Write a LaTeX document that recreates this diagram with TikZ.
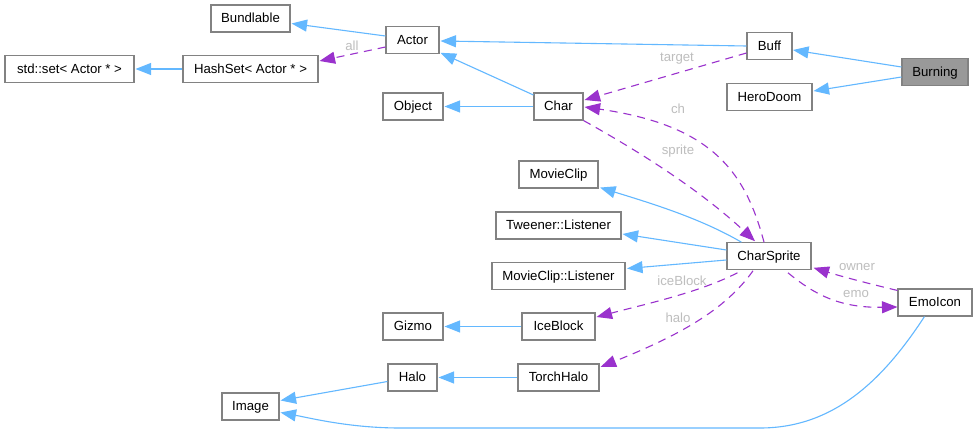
\documentclass[tikz,border=0pt]{standalone}
\usepackage{fontspec}
\setmainfont{Liberation Sans}
\usetikzlibrary{arrows.meta,calc}
\definecolor{inh}{HTML}{63B8FF}
\definecolor{usg}{HTML}{9A32CD}
\definecolor{bd}{HTML}{828282}
\definecolor{lb}{HTML}{BEBEBE}
\tikzset{
  cls/.style={draw=bd,line width=1.1pt,fill=white,inner sep=0pt,font=\fontsize{13.2}{15}\selectfont,text height=9.6pt,text depth=1pt,align=center},
  cur/.style={cls,fill=black!40},
  inhline/.style={draw=inh,line width=1.1pt,-{Triangle[length=15.5pt,width=12pt,fill=inh]}},
  usgline/.style={draw=usg,line width=1.1pt,dash pattern=on 8pt off 6pt,-{Triangle[length=15.5pt,width=12pt,fill=usg]}},
  lbl/.style={text=lb,inner sep=0pt,font=\fontsize{13.2}{15}\selectfont}
}
\begin{document}
\begin{tikzpicture}[x=1pt,y=-1pt]
\useasboundingbox[fill=white] (0,0) rectangle (977,433);
% nodes
\node[cls,minimum width=79pt,minimum height=27pt] (bundlable) at (250.5,18.5) {Bundlable};
\node[cls,minimum width=53pt,minimum height=26.5pt] (actor) at (412.5,40) {Actor};
\node[cls,minimum width=129pt,minimum height=26.5pt] (stdset) at (69.5,69) {std::set< Actor * >};
\node[cls,minimum width=135pt,minimum height=26.5pt] (hashset) at (250.5,69) {HashSet< Actor * >};
\node[cls,minimum width=60pt,minimum height=27pt] (object) at (413,106.5) {Object};
\node[cls,minimum width=49pt,minimum height=27pt] (char) at (558.5,106.5) {Char};
\node[cls,minimum width=45pt,minimum height=27pt] (buff) at (769.5,46) {Buff};
\node[cur,minimum width=66pt,minimum height=26.5pt] (burning) at (935,72) {Burning};
\node[cls,minimum width=85pt,minimum height=26.5pt] (herodoom) at (769.5,97) {HeroDoom};
\node[cls,minimum width=79pt,minimum height=27pt] (movieclip) at (558.5,174.5) {MovieClip};
\node[cls,minimum width=125pt,minimum height=27pt] (tweener) at (558.5,225.5) {Tweener::Listener};
\node[cls,minimum width=133pt,minimum height=26.5pt] (mclistener) at (558.5,276) {MovieClip::Listener};
\node[cls,minimum width=73pt,minimum height=27pt] (iceblock) at (558.5,326.5) {IceBlock};
\node[cls,minimum width=60pt,minimum height=27pt] (gizmo) at (413,326.5) {Gizmo};
\node[cls,minimum width=49pt,minimum height=27pt] (halo) at (412.5,377.5) {Halo};
\node[cls,minimum width=81pt,minimum height=27pt] (torchhalo) at (558.5,377.5) {TorchHalo};
\node[cls,minimum width=57pt,minimum height=27pt] (image) at (250.5,406.5) {Image};
\node[cls,minimum width=84pt,minimum height=26.5pt] (charsprite) at (769,256) {CharSprite};
\node[cls,minimum width=74pt,minimum height=27pt] (emoicon) at (935,302.5) {EmoIcon};
% inheritance
\draw[inhline] ($(burning.west)+(0,-5)$) -- ($(buff.east)+(0.5,4)$);
\draw[inhline] ($(burning.west)+(0,5)$) -- ($(herodoom.east)+(1,-6)$);
\draw[inhline] ($(buff.west)+(0,0)$) -- ($(actor.east)+(1,1)$);
\draw[inhline] ($(actor.west)+(0,-4)$) -- ($(bundlable.east)+(1,5)$);
\draw[inhline] (hashset.west) -- ($(stdset.east)+(1,0)$);
\draw[inhline] ($(char.west)+(0,-11.5)$) -- ($(actor.south east)+(1,-1)$);
\draw[inhline] (char.west) -- ($(object.east)+(1,0)$);
\draw[inhline] ($(charsprite.north west)+(15,0)$) .. controls (700,218) and (650,203) .. ($(movieclip.south east)+(1.5,-1)$);
\draw[inhline] ($(charsprite.west)+(0,-6)$) -- ($(tweener.east)+(1,8.5)$);
\draw[inhline] ($(charsprite.west)+(0,4)$) -- ($(mclistener.east)+(1.5,-7.5)$);
\draw[inhline] (iceblock.west) -- ($(gizmo.east)+(1,0)$);
\draw[inhline] (torchhalo.west) -- ($(halo.east)+(1,0)$);
\draw[inhline] ($(halo.west)+(0,4)$) -- ($(image.east)+(1,-6)$);
\draw[inhline] ($(emoicon.south west)+(27,0)$) .. controls (880,385) and (830,428) .. (760,428) -- (400,428) .. controls (350,428) and (310,418) .. ($(image.east)+(1,6)$);
% usage
\draw[usgline] ($(actor.west)+(0,7)$) -- ($(hashset.east)+(1,-8)$);
\draw[usgline] ($(buff.west)+(0,7)$) -- ($(char.east)+(1,-6.5)$);
\draw[usgline] ($(charsprite.north)+(-5,0)$) .. controls (745,170) and (710,125) .. ($(char.east)+(1,0.5)$);
\draw[usgline] (char.south east) .. controls (640,152) and (700,190) .. ($(charsprite.north)+(-14,-1)$);
\draw[usgline] ($(charsprite.south west)+(11,3)$) .. controls (700,292) and (650,303) .. ($(iceblock.east)+(1,-9.5)$);
\draw[usgline] ($(charsprite.south)+(-16,1)$) .. controls (725,310) and (680,335) .. ($(torchhalo.east)+(1,-10.5)$);
\draw[usgline] ($(charsprite.south)+(19,3)$) .. controls (815,295) and (840,308) .. ($(emoicon.west)+(0,4.5)$);
\draw[usgline] ($(emoicon.north west)+(0,2)$) .. controls (870,284) and (840,276) .. ($(charsprite.south east)+(2,-2)$);
% labels
\node[lbl] (lall) at (352,46) {all};
\node[lbl] (ltarget) at (677,58.5) {target};
\node[lbl] (lch) at (678,109) {ch};
\node[lbl] (lsprite) at (678,151.5) {sprite};
\node[lbl] (lice) at (682,281) {iceBlock};
\node[lbl] (lhalo) at (678,318) {halo};
\node[lbl] (lowner) at (857,267.5) {owner};
\node[lbl] (lemo) at (856,294.5) {emo};
\end{tikzpicture}
\end{document}
